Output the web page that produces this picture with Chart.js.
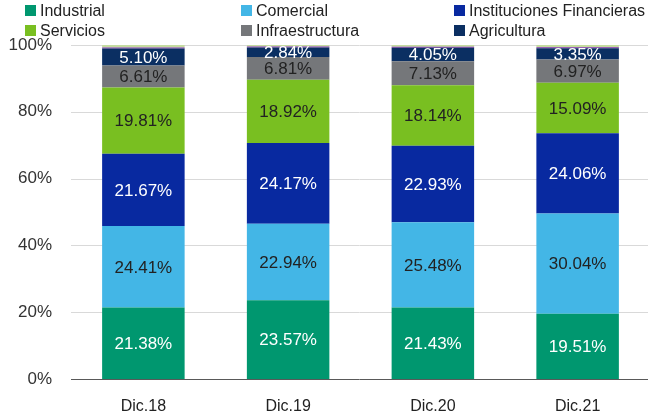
<!DOCTYPE html>
<html lang="es">
<head>
<meta charset="UTF-8">
<title>Cartera por sector</title>
<script src="https://cdn.jsdelivr.net/npm/chart.js"></script>
<style>
    body { margin: 0; background: #fff; }
    .wrap { position: relative; width: 650px; height: 413px; }
    .leyenda { position: absolute; top: 0; left: 0; width: 650px; height: 42px;
        font-family: "Liberation Sans", Arial, sans-serif; font-size: 16px; color: #222; }
    .item { position: absolute; white-space: nowrap; line-height: 20px; }
    .item span { position: absolute; left: 0; top: 4px; width: 11px; height: 11px; }
    .item b { font-weight: normal; position: absolute; left: 15px; top: 0; }
</style>
</head>
<body>
<div class="wrap">
    <canvas id="grafico_sectores"></canvas>
    <div class="leyenda" id="leyenda"></div>
</div>
<script>
    const periodos = ['Dic.18', 'Dic.19', 'Dic.20', 'Dic.21'];
    const industrial = [21.38, 23.57, 21.43, 19.51];
    const comercial = [24.41, 22.94, 25.48, 30.04];
    const instFinancieras = [21.67, 24.17, 22.93, 24.06];
    const servicios = [19.81, 18.92, 18.14, 15.09];
    const infraestructura = [6.61, 6.81, 7.13, 6.97];
    const agricultura = [5.10, 2.84, 4.05, 3.35];
    // restos pequeños en la parte de arriba (sin leyenda)
    const otros1 = [0.3, 0.3, 0.3, 0.3];
    const otros2 = [0.72, 0.45, 0.54, 0.68];
    const ticksY = [0, 20, 40, 60, 80, 100];

    const series = [
        { label: 'Industrial', data: industrial, color: '#00976f', texto: '#fff' },
        { label: 'Comercial', data: comercial, color: '#43b6e6', texto: '#222' },
        { label: 'Instituciones Financieras', data: instFinancieras, color: '#0829a0', texto: '#fff' },
        { label: 'Servicios', data: servicios, color: '#79bf21', texto: '#222' },
        { label: 'Infraestructura', data: infraestructura, color: '#75777a', texto: '#222' },
        { label: 'Agricultura', data: agricultura, color: '#0b2f62', texto: '#fff' },
        { label: '', data: otros1, color: '#7a2fa3', texto: null },
        { label: '', data: otros2, color: '#c4dba0', texto: null }
    ];

    // leyenda en 3 columnas
    const posLeyenda = [[25, 1], [241, 1], [454, 1], [25, 21], [241, 21], [454, 21]];
    const leyenda = document.getElementById('leyenda');
    for (let i = 0; i < 6; i++) {
        const d = document.createElement('div');
        d.className = 'item';
        d.style.left = posLeyenda[i][0] + 'px';
        d.style.top = posLeyenda[i][1] + 'px';
        d.innerHTML = '<span style="background:' + series[i].color + '"></span><b>' + series[i].label + '</b>';
        leyenda.appendChild(d);
    }

    const etiquetas = {
        id: 'etiquetas',
        afterDatasetsDraw(chart) {
            const ctx = chart.ctx;
            ctx.save();
            ctx.font = '17px "Liberation Sans", Arial, sans-serif';
            ctx.textAlign = 'center';
            ctx.textBaseline = 'middle';
            chart.data.datasets.forEach(function (ds, i) {
                if (!ds.texto) return;
                chart.getDatasetMeta(i).data.forEach(function (bar, j) {
                    ctx.fillStyle = ds.texto;
                    ctx.fillText(ds.data[j].toFixed(2) + '%', bar.x, (bar.y + bar.base) / 2 + 1);
                });
            });
            ctx.restore();
        }
    };

    // grilla horizontal, la línea del 0% más oscura
    const grilla = {
        id: 'grilla',
        beforeDatasetsDraw(chart) {
            const ctx = chart.ctx;
            const y = chart.scales.y;
            ctx.save();
            ticksY.forEach(function (v) {
                const py = Math.round(y.getPixelForValue(v)) + 0.5;
                ctx.strokeStyle = v === 0 ? '#595959' : '#d9d9d9';
                ctx.lineWidth = 1;
                ctx.beginPath();
                ctx.moveTo(chart.chartArea.left, py);
                ctx.lineTo(chart.chartArea.right - 2, py);
                ctx.stroke();
            });
            ctx.restore();
        }
    };

    new Chart(document.getElementById('grafico_sectores').getContext('2d'), {
        type: 'bar',
        data: {
            labels: periodos,
            datasets: series.map(function (s) {
                return {
                    label: s.label,
                    data: s.data,
                    backgroundColor: s.color,
                    texto: s.texto,
                    borderWidth: 0,
                    categoryPercentage: 1,
                    barPercentage: 0.57
                };
            })
        },
        options: {
            responsive: true,
            maintainAspectRatio: false,
            animation: false,
            layout: { padding: { top: 45, right: 0, left: 0, bottom: 0 } },
            plugins: {
                legend: { display: false },
                tooltip: { enabled: false }
            },
            scales: {
                x: {
                    stacked: true,
                    grid: { display: false },
                    border: { display: false },
                    ticks: { color: '#222', padding: 10, font: { family: '"Liberation Sans", Arial, sans-serif', size: 16 } },
                    afterFit: function (s) { s.height = 34; }
                },
                y: {
                    stacked: true,
                    min: 0,
                    max: 100,
                    afterBuildTicks: function (s) { s.ticks = ticksY.map(function (v) { return { value: v }; }); },
                    grid: { display: false, drawTicks: false },
                    border: { display: false },
                    ticks: {
                        color: '#333',
                        padding: 19,
                        font: { family: '"Liberation Sans", Arial, sans-serif', size: 17 },
                        callback: function (v) { return v + '%'; }
                    },
                    afterFit: function (s) { s.width = 71; }
                }
            }
        },
        plugins: [grilla, etiquetas]
    });
</script>
</body>
</html>
